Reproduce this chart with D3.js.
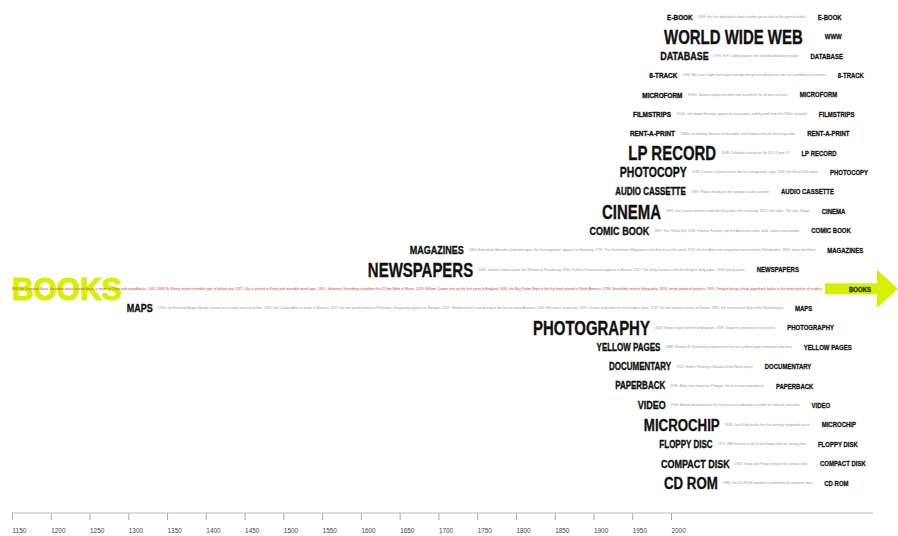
<!DOCTYPE html>
<html>
<head>
<meta charset="utf-8">
<script src="https://cdn.jsdelivr.net/npm/d3@7"></script>
<style>
  body { margin: 0; background: #fff; }
</style>
</head>
<body>
<script>
var width = 898
var height = 536

// media, top row first
var media = ["E-BOOK", "WORLD WIDE WEB", "DATABASE", "8-TRACK", "MICROFORM", "FILMSTRIPS",
             "RENT-A-PRINT", "LP RECORD", "PHOTOCOPY", "AUDIO CASSETTE", "CINEMA", "COMIC BOOK",
             "MAGAZINES", "NEWSPAPERS", "BOOKS", "MAPS", "PHOTOGRAPHY", "YELLOW PAGES",
             "DOCUMENTARY", "PAPERBACK", "VIDEO", "MICROCHIP", "FLOPPY DISC", "COMPACT DISK", "CD ROM"]

// year each title starts at
var startYears = [1995, 1991, 1986, 1972, 1963, 1951,
                  1947, 1945, 1934, 1928, 1911, 1895,
                  1663, 1609, 1150, 1298, 1822, 1904,
                  1920, 1928, 1957, 1965, 1985, 1987, 1991]

// how loud the title is (1 = whisper ... 7 = BOOKS)
var prominence = [1, 6, 3, 1, 1, 1,
                  1, 6, 4, 2, 6, 3,
                  3, 6, 7, 3, 6, 2,
                  2, 2, 3, 5, 2, 3, 5]

// the short tag at the end of each line
var shortLabels = ["E-BOOK", "WWW", "DATABASE", "8-TRACK", "MICROFORM", "FILMSTRIPS",
                   "RENT-A-PRINT", "LP RECORD", "PHOTOCOPY", "AUDIO CASSETTE", "CINEMA", "COMIC BOOK",
                   "MAGAZINES", "NEWSPAPERS", "BOOKS", "MAPS", "PHOTOGRAPHY", "YELLOW PAGES",
                   "DOCUMENTARY", "PAPERBACK", "VIDEO", "MICROCHIP", "FLOPPY DISK", "COMPACT DISK", "CD ROM"]

var notes = [
  "1998: the first dedicated e-book readers go on sale to the general public",
  "",
  "1970: E.F. Codd proposes the relational database model",
  "1964: Bill Lear's eight-track tape cartridge brings recorded music into cars and American homes",
  "1950s: libraries adopt microfilm and microfiche for all their archives",
  "1920s: still-image filmstrips appear in classrooms, widely used from the 1950s onwards",
  "1940s: art lending libraries let the public rent framed prints for the living room",
  "1948: Columbia introduces the 33 1/3 rpm LP",
  "1938: Chester Carlson makes the first xerographic copy; 1959: the Xerox 914 copier",
  "1963: Philips introduces the compact audio cassette",
  "1895: the Lumiere brothers hold the first public film screening; 1927: first talkie, The Jazz Singer",
  "1897: The Yellow Kid; 1933: Famous Funnies, the first American comic book, sold at newsstands",
  "1663: Erbauliche Monaths-Unterredungen, the first magazine, appears in Germany; 1731: The Gentleman's Magazine is the first to use the word; 1741: the first American magazines are printed in Philadelphia; 1893: mass monthlies",
  "1605: Johann Carolus prints the Relation in Strasbourg; 1690: Publick Occurrences appears in Boston; 1702: The Daily Courant is the first English daily paper; 1833: penny press",
  "868: the Diamond Sutra, the oldest dated printed book, is made in China with woodblocks. 1041-1048: Bi Sheng invents movable type of baked clay. 1377: Jikji is printed in Korea with movable metal type. 1455: Johannes Gutenberg completes his 42-line Bible at Mainz. 1476: William Caxton sets up the first press in England. 1640: the Bay Psalm Book is the first book printed in North America. 1798: Senefelder invents lithography. 1814: steam-powered presses. 1935: Penguin brings cheap paperback books to the mass market of readers.",
  "1290: the Hereford Mappa Mundi is drawn on a single sheet of vellum; 1375: the Catalan Atlas is made in Majorca; 1477: the first printed edition of Ptolemy's Geography appears in Bologna; 1507: Waldseemuller's world map is the first to name America; 1569: Mercator's projection; 1570: Ortelius publishes the first modern atlas; 1747: the first national survey of France; 1891: the International Map of the World begins",
  "1826: Niepce takes the first photograph; 1839: Daguerre announces his process",
  "1886: Reuben H. Donnelley produces the first ever yellow pages telephone directory",
  "1922: Robert Flaherty's Nanook of the North opens",
  "1935: Allen Lane launches Penguin, the first mass paperbacks",
  "1956: Ampex demonstrates the first practical videotape recorder for network television",
  "1958: Jack Kilby builds the first working integrated circuit",
  "1971: IBM introduces the 8-inch floppy disk for storing data",
  "1982: Sony and Philips release the compact disc",
  "1985: the CD-ROM standard is published for computer data"
]

var tickYears = [1150, 1200, 1250, 1300, 1350, 1400, 1450, 1500, 1550, 1600,
                 1650, 1700, 1750, 1800, 1850, 1900, 1950, 2000]

// font size + horizontal squeeze for each prominence level
var levelStyle = {
  1: {size: 8, sx: 0.8},
  2: {size: 10, sx: 0.8},
  3: {size: 11, sx: 0.82},
  4: {size: 14, sx: 0.75},
  5: {size: 17, sx: 0.78},
  6: {size: 20.5, sx: 0.73},
  7: {size: 32, sx: 0.935}
}

var fontStack = "'Liberation Sans', Arial, sans-serif"
var lime = "#d6f000"
var ink = "#111"

var x = d3.scaleLinear().domain([1150, 2000]).range([12, 671])
var y = d3.scalePoint().domain(media).range([17, 483])

var svg = d3.select("body").append("svg")
            .attr("width", width)
            .attr("height", height)
            .style("display", "block")
            .style("background", "#fff")

//---- time axis at the bottom
var axisY = 513
var axisG = svg.append("g")
               .attr("transform", "translate(0," + axisY + ")")
               .call(d3.axisBottom(x).tickValues(tickYears).tickSize(7).tickFormat(d3.format("d")))

axisG.select(".domain").remove()
axisG.insert("line", ":first-child")
     .attr("x1", x.range()[0]).attr("x2", width - 25)
     .attr("stroke", "#bbb").attr("stroke-width", 1)
axisG.selectAll(".tick line").attr("stroke", "#aaa")
axisG.selectAll(".tick text")
     .attr("y", null).attr("dy", null)
     .attr("text-anchor", "start")
     .attr("transform", "translate(0,20) scale(0.8,1)")
     .style("font-family", fontStack)
     .style("font-size", "8px")
     .attr("fill", "#444")

//---- one line per medium
var rowData = media.map(function(m, i) {
  return {name: m, year: startYears[i], level: prominence[i], tag: shortLabels[i], note: notes[i]}
})

var rows = svg.selectAll("g.row")
              .data(rowData)
              .enter()
                .append("g")
                .attr("class", "row")

rows.each(function(d) {
  var g = d3.select(this)
  var st = levelStyle[d.level]
  var yc = y(d.name)
  var x0 = x(d.year)
  var isBooks = d.level === 7

  var title = g.append("text")
               .text(d.name)
               .attr("transform", "translate(" + x0 + "," + (yc + 0.358 * st.size) + ") scale(" + st.sx + ",1)")
               .style("font-family", fontStack)
               .style("font-weight", "bold")
               .style("font-size", st.size + "px")
               .attr("fill", isBooks ? lime : ink)
               .attr("stroke", isBooks ? lime : ink)
               .attr("stroke-width", isBooks ? 1.2 : 0.35)
  var titleEnd = x0 + title.node().getComputedTextLength() * st.sx

  // the little grey (red for books) history line
  var noteStart = isBooks ? x0 : titleEnd + 5
  var note = g.append("text")
              .text(d.note)
              .attr("x", noteStart)
              .attr("y", yc + 1.1)
              .style("font-family", fontStack)
              .style("font-size", "3.4px")
              .attr("fill", isBooks ? "#e0401a" : "#9a9a9a")
  var noteEnd = d.note ? noteStart + note.node().getComputedTextLength() : titleEnd + 10

  var tagX
  if (isBooks) {
    // lime arrow carrying the books line to the edge
    var barStart = noteEnd + 2
    var barEnd = width - 21
    g.append("rect")
     .attr("x", barStart).attr("y", yc - 5.5)
     .attr("width", barEnd - barStart).attr("height", 11)
     .attr("fill", lime)
    g.append("path")
     .attr("d", "M" + barEnd + "," + (yc - 19) + "L" + width + "," + yc + "L" + barEnd + "," + (yc + 19) + "Z")
     .attr("fill", lime)
    tagX = barEnd - 28
  } else {
    tagX = noteEnd + 12
  }

  g.append("text")
   .text(d.tag)
   .attr("transform", "translate(" + tagX + "," + (yc + 2.7) + ") scale(0.8,1)")
   .style("font-family", fontStack)
   .style("font-weight", "bold")
   .style("font-size", "7.5px")
   .attr("fill", ink)
   .attr("stroke", ink)
   .attr("stroke-width", 0.25)
})
</script>
</body>
</html>
